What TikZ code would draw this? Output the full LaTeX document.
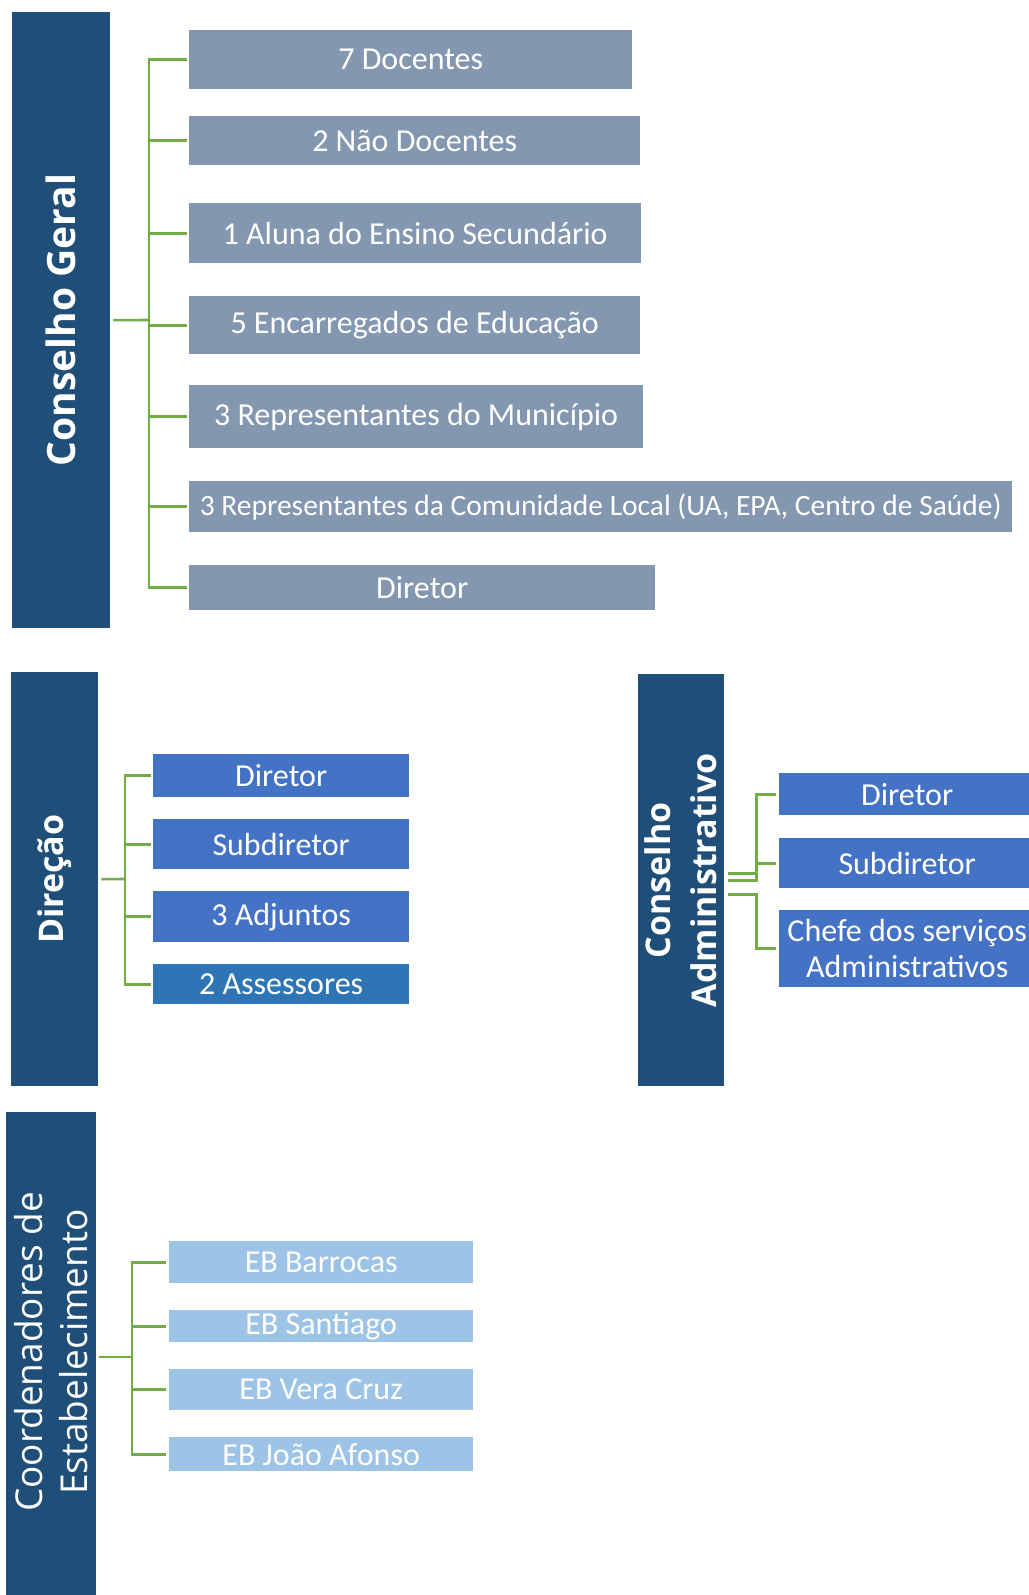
\documentclass[tikz,border=0pt]{standalone}
\usepackage{fontspec}
\setmainfont{Carlito}
\newfontfamily\titfont{Open Sans}

\definecolor{azulosc}{HTML}{1F4E79}
\definecolor{grisazul}{HTML}{8497B0}
\definecolor{azul}{HTML}{4472C4}
\definecolor{azulmed}{HTML}{2E75B6}
\definecolor{azulcla}{HTML}{9DC3E6}
\definecolor{verde}{HTML}{70AD47}

\begin{document}
\begin{tikzpicture}[x=1pt, y=-1pt,
	titulo/.style={fill=azulosc, inner sep=0pt, anchor=north west},
	tit/.style={rotate=90, text=white, align=center, font=\titfont\bfseries\fontsize{34}{46}\selectfont},
	titn/.style={rotate=90, text=white, align=center, font=\titfont\fontsize{37}{45}\selectfont},
	item/.style={fill=#1, text=white, inner sep=0pt, anchor=north west, align=center, font=\fontsize{32}{36}\selectfont},
	rama/.style={verde, line width=2.6pt}]
	\useasboundingbox (0,0) rectangle (1028,1595);

	% Conselho Geral
		\node[titulo, minimum width=98, minimum height=616] (cg) at (12,12) {};
		\node[tit, font=\titfont\bfseries\fontsize{39}{46}\selectfont] (cgt) at (cg.center) {Conselho Geral};
		\node[item=grisazul, minimum width=443, minimum height=59] (cg1) at (189,30) {7 Docentes};
		\node[item=grisazul, minimum width=451, minimum height=49] (cg2) at (189,116) {2 Não Docentes};
		\node[item=grisazul, minimum width=452, minimum height=60] (cg3) at (189,203) {1 Aluna do Ensino Secundário};
		\node[item=grisazul, minimum width=451, minimum height=58] (cg4) at (189,296) {5 Encarregados de Educação};
		\node[item=grisazul, minimum width=454, minimum height=63] (cg5) at (189,385) {3 Representantes do Município};
		\node[item=grisazul, minimum width=823, minimum height=51, font=\fontsize{29.5}{36}\selectfont] (cg6) at (189,481) {3 Representantes da Comunidade Local (UA, EPA, Centro de Saúde)};
		\node[item=grisazul, minimum width=466, minimum height=45] (cg7) at (189,565) {Diretor};
		\coordinate (cgbus) at (149,320);
		\draw[rama] ([xshift=3pt]cg.east) -- (cgbus);
		\foreach \i in {1,...,7}
			\draw[rama] (cgbus) |- ([xshift=-2pt]cg\i.west);

	% Direcao
		\node[titulo, minimum width=87, minimum height=414] (dir) at (11,672) {};
		\node[tit] (dirt) at (dir.center) {Direção};
		\node[item=azul, minimum width=256, minimum height=43] (dir1) at (153,754) {Diretor};
		\node[item=azul, minimum width=256, minimum height=50] (dir2) at (153,819) {Subdiretor};
		\node[item=azul, minimum width=256, minimum height=51] (dir3) at (153,891) {3 Adjuntos};
		\node[item=azulmed, minimum width=256, minimum height=40] (dir4) at (153,964) {2 Assessores};
		\coordinate (dirbus) at (125,879);
		\draw[rama] ([xshift=3pt]dir.east) -- (dirbus);
		\foreach \i in {1,...,4}
			\draw[rama] (dirbus) |- ([xshift=-2pt]dir\i.west);

	% Conselho Administrativo
		\node[titulo, minimum width=86, minimum height=412] (ca) at (638,674) {};
		\node[tit] (cat) at (ca.center) {Conselho\\Administrativo};
		\node[item=azul, minimum width=256, minimum height=42] (ca1) at (779,773) {Diretor};
		\node[item=azul, minimum width=256, minimum height=50] (ca2) at (779,838) {Subdiretor};
		\node[item=azul, minimum width=256, minimum height=77] (ca3) at (779,910) {Chefe dos serviços\\Administrativos};
		\draw[rama] ([xshift=4pt, yshift=7pt]ca.east) -- ++(28,0) |- ([xshift=-3pt]ca1.west);
		\draw[rama] ([xshift=4pt]ca.east) -- ++(28,0) |- ([xshift=-3pt]ca2.west);
		\draw[rama] ([xshift=4pt, yshift=-14pt]ca.east) -- ++(28,0) |- ([xshift=-3pt]ca3.west);

	% Coordenadores de Estabelecimento
		\node[titulo, minimum width=90, minimum height=490] (ce) at (6,1112) {};
		\node[titn] (cet) at (51,1352) {Coordenadores de\\Estabelecimento};
		\node[item=azulcla, minimum width=304, minimum height=42] (ce1) at (169,1241) {EB Barrocas};
		\node[item=azulcla, minimum width=304, minimum height=32] (ce2) at (169,1310) {EB Santiago};
		\node[item=azulcla, minimum width=304, minimum height=41] (ce3) at (169,1369) {EB Vera Cruz};
		\node[item=azulcla, minimum width=304, minimum height=34] (ce4) at (169,1437) {EB João Afonso};
		\coordinate (cebus) at (132,1357);
		\draw[rama] ([xshift=3pt]ce.east |- cebus) -- (cebus);
		\foreach \i in {1,...,4}
			\draw[rama] (cebus) |- ([xshift=-3pt]ce\i.west);
\end{tikzpicture}
\end{document}
